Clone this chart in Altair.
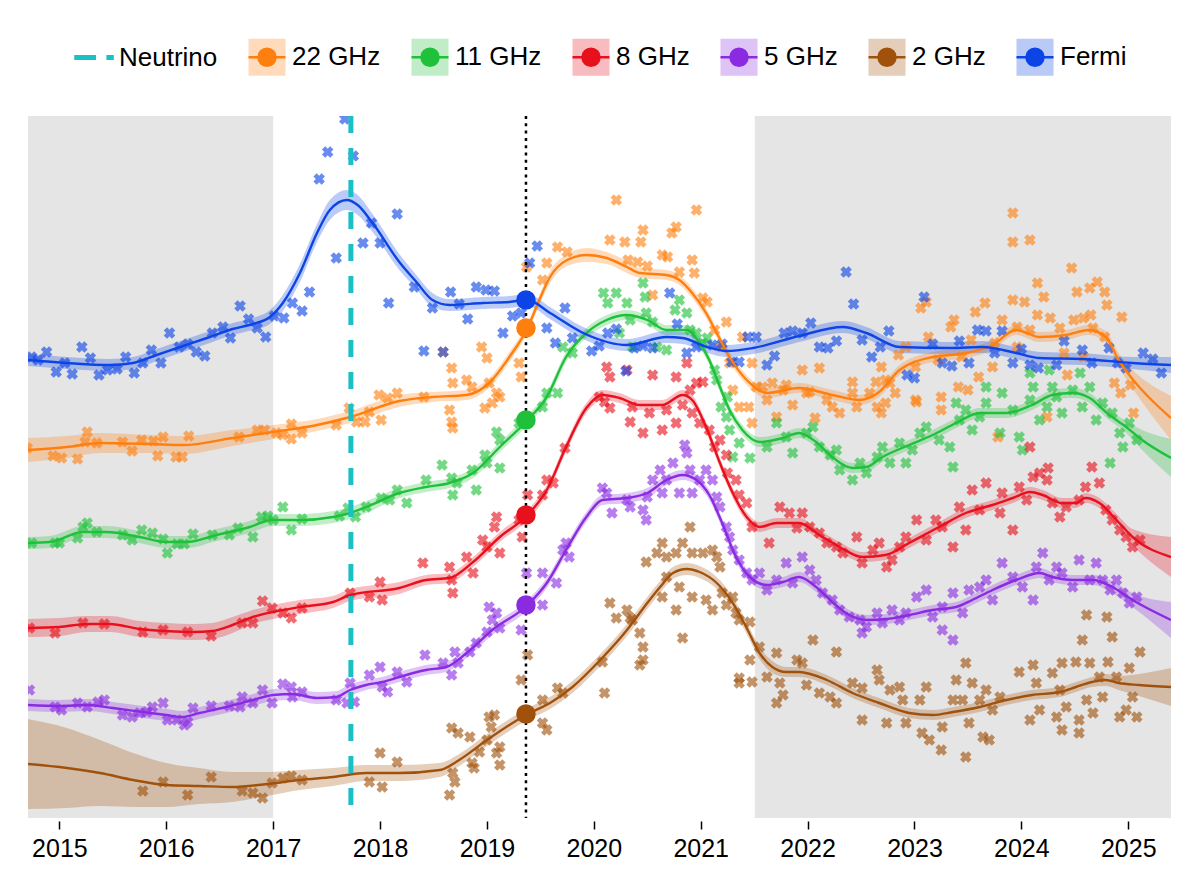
import altair as alt
import pandas as pd

# ---------------------------------------------------------------- axes / epochs
X_DOMAIN = [2014.706, 2025.40]
Y_DOMAIN = [0.0, 7.02]
YEAR_TICKS = list(range(2015, 2026))
SHADE_START = [2014.706, 2021.506]
SHADE_END = [2017.0, 2025.40]
NEUTRINO_T = [2017.727]
FLARE_T = [2019.365]

SERIES = ["22 GHz", "11 GHz", "8 GHz", "5 GHz", "2 GHz", "Fermi"]
LEGEND_ORDER = ["Neutrino"] + SERIES
COLORS = ["#19c0c6", "#ff7f0e", "#1fc13a", "#e8101d", "#8a2be2", "#a0520c", "#0c44e6"]
SERIES_COLOR = dict(zip(LEGEND_ORDER, COLORS))

# value of each smoothed light curve at the flare epoch (big dots)
MARKER_V = [4.90, 3.98, 3.03, 2.13, 1.04, 5.18]

# ---------------------------------------------------------------- smoothed curves [year, value, half-width]
FERMI_CURVE = [
    [2014.70, 4.58, 0.06], [2015.07, 4.55, 0.06], [2015.47, 4.53, 0.06], [2015.69, 4.55, 0.06],
    [2015.91, 4.63, 0.06], [2016.13, 4.71, 0.06], [2016.38, 4.80, 0.06], [2016.62, 4.89, 0.06],
    [2016.81, 4.94, 0.06], [2016.97, 5.01, 0.07], [2017.09, 5.15, 0.08], [2017.25, 5.45, 0.09],
    [2017.41, 5.85, 0.09], [2017.53, 6.08, 0.10], [2017.69, 6.18, 0.10], [2017.79, 6.13, 0.10],
    [2017.93, 5.95, 0.09], [2018.18, 5.56, 0.08], [2018.34, 5.36, 0.07], [2018.49, 5.18, 0.07],
    [2018.65, 5.13, 0.06], [2018.96, 5.15, 0.06], [2019.21, 5.16, 0.06], [2019.38, 5.18, 0.06],
    [2019.59, 5.05, 0.06], [2019.90, 4.85, 0.06], [2020.31, 4.73, 0.06], [2020.68, 4.81, 0.06],
    [2020.83, 4.80, 0.06], [2021.06, 4.71, 0.06], [2021.24, 4.67, 0.06], [2021.49, 4.70, 0.06],
    [2021.92, 4.82, 0.06], [2022.33, 4.91, 0.06], [2022.55, 4.85, 0.06], [2022.86, 4.71, 0.06],
    [2023.33, 4.70, 0.06], [2023.64, 4.71, 0.06], [2023.95, 4.65, 0.06], [2024.17, 4.60, 0.06],
    [2024.57, 4.59, 0.06], [2025.04, 4.55, 0.06], [2025.40, 4.53, 0.08],
]
ORANGE_CURVE = [
    [2014.70, 3.68, 0.12], [2015.07, 3.71, 0.11], [2015.38, 3.75, 0.10], [2015.84, 3.74, 0.09],
    [2016.16, 3.73, 0.09], [2016.62, 3.80, 0.08], [2017.00, 3.86, 0.07], [2017.41, 3.93, 0.06],
    [2017.72, 4.01, 0.06], [2018.18, 4.17, 0.06], [2018.49, 4.21, 0.05], [2018.81, 4.23, 0.05],
    [2019.02, 4.35, 0.05], [2019.21, 4.61, 0.05], [2019.38, 4.90, 0.05], [2019.49, 5.18, 0.05],
    [2019.59, 5.41, 0.06], [2019.75, 5.58, 0.06], [2019.93, 5.63, 0.07], [2020.12, 5.60, 0.06],
    [2020.31, 5.51, 0.06], [2020.43, 5.45, 0.05], [2020.68, 5.43, 0.05], [2020.80, 5.38, 0.05],
    [2020.92, 5.25, 0.05], [2021.05, 5.05, 0.05], [2021.15, 4.85, 0.05], [2021.27, 4.61, 0.05],
    [2021.43, 4.38, 0.05], [2021.62, 4.25, 0.05], [2021.92, 4.30, 0.05], [2022.23, 4.23, 0.05],
    [2022.48, 4.18, 0.05], [2022.67, 4.26, 0.05], [2022.86, 4.48, 0.05], [2023.17, 4.61, 0.05],
    [2023.49, 4.65, 0.05], [2023.73, 4.73, 0.05], [2023.95, 4.88, 0.05], [2024.17, 4.81, 0.05],
    [2024.42, 4.83, 0.05], [2024.63, 4.88, 0.05], [2024.79, 4.81, 0.06], [2024.91, 4.58, 0.07],
    [2025.07, 4.35, 0.10], [2025.19, 4.21, 0.14], [2025.40, 4.00, 0.22],
]
GREEN_CURVE = [
    [2014.70, 2.75, 0.06], [2014.91, 2.76, 0.06], [2015.22, 2.86, 0.06], [2015.44, 2.86, 0.06],
    [2015.75, 2.81, 0.06], [2016.00, 2.76, 0.06], [2016.19, 2.76, 0.06], [2016.47, 2.83, 0.06],
    [2016.78, 2.91, 0.06], [2016.99, 2.98, 0.06], [2017.25, 2.98, 0.06], [2017.56, 3.01, 0.06],
    [2017.72, 3.05, 0.06], [2017.87, 3.11, 0.06], [2018.18, 3.25, 0.05], [2018.43, 3.31, 0.05],
    [2018.65, 3.35, 0.05], [2018.87, 3.45, 0.05], [2019.12, 3.71, 0.05], [2019.38, 3.98, 0.05],
    [2019.56, 4.21, 0.05], [2019.74, 4.61, 0.05], [2019.93, 4.85, 0.05], [2020.12, 4.98, 0.05],
    [2020.31, 5.03, 0.05], [2020.50, 4.98, 0.05], [2020.68, 4.88, 0.05], [2020.87, 4.88, 0.05],
    [2020.99, 4.75, 0.05], [2021.08, 4.58, 0.05], [2021.18, 4.31, 0.05], [2021.27, 4.08, 0.05],
    [2021.39, 3.88, 0.05], [2021.55, 3.76, 0.05], [2021.77, 3.80, 0.05], [2021.92, 3.85, 0.05],
    [2022.08, 3.76, 0.05], [2022.23, 3.61, 0.05], [2022.42, 3.50, 0.05], [2022.55, 3.51, 0.05],
    [2022.70, 3.61, 0.05], [2022.95, 3.73, 0.05], [2023.17, 3.83, 0.05], [2023.39, 3.95, 0.05],
    [2023.61, 4.05, 0.05], [2023.86, 4.05, 0.05], [2024.10, 4.13, 0.05], [2024.29, 4.23, 0.05],
    [2024.48, 4.25, 0.05], [2024.64, 4.20, 0.05], [2024.80, 4.05, 0.05], [2024.98, 3.91, 0.06],
    [2025.13, 3.78, 0.10], [2025.40, 3.60, 0.19],
]
RED_CURVE = [
    [2014.70, 1.90, 0.09], [2015.00, 1.91, 0.09], [2015.26, 1.94, 0.08], [2015.47, 1.94, 0.08],
    [2015.75, 1.89, 0.08], [2016.00, 1.87, 0.08], [2016.25, 1.86, 0.08], [2016.43, 1.87, 0.08],
    [2016.62, 1.93, 0.08], [2016.81, 2.01, 0.07], [2017.00, 2.06, 0.07], [2017.25, 2.11, 0.07],
    [2017.56, 2.16, 0.06], [2017.72, 2.23, 0.06], [2018.18, 2.30, 0.06], [2018.43, 2.38, 0.05],
    [2018.65, 2.40, 0.05], [2018.87, 2.56, 0.05], [2019.12, 2.81, 0.05], [2019.38, 3.03, 0.05],
    [2019.56, 3.28, 0.05], [2019.74, 3.71, 0.05], [2019.93, 4.10, 0.05], [2020.08, 4.23, 0.05],
    [2020.24, 4.20, 0.05], [2020.43, 4.13, 0.05], [2020.64, 4.13, 0.05], [2020.83, 4.23, 0.05],
    [2020.92, 4.18, 0.05], [2021.05, 3.91, 0.05], [2021.18, 3.55, 0.05], [2021.30, 3.25, 0.05],
    [2021.43, 3.01, 0.05], [2021.55, 2.91, 0.05], [2021.71, 2.95, 0.05], [2021.92, 2.95, 0.05],
    [2022.11, 2.83, 0.05], [2022.30, 2.71, 0.05], [2022.51, 2.61, 0.05], [2022.73, 2.63, 0.05],
    [2022.95, 2.75, 0.05], [2023.23, 2.91, 0.05], [2023.48, 3.05, 0.05], [2023.73, 3.13, 0.05],
    [2023.92, 3.20, 0.05], [2024.08, 3.26, 0.05], [2024.20, 3.23, 0.05], [2024.38, 3.15, 0.05],
    [2024.51, 3.15, 0.05], [2024.60, 3.20, 0.05], [2024.73, 3.15, 0.05], [2024.89, 2.98, 0.06],
    [2025.04, 2.81, 0.08], [2025.40, 2.61, 0.20],
]
PURPLE_CURVE = [
    [2014.70, 1.13, 0.06], [2015.00, 1.12, 0.06], [2015.26, 1.13, 0.06], [2015.50, 1.10, 0.06],
    [2015.78, 1.06, 0.06], [2016.00, 1.03, 0.06], [2016.15, 1.01, 0.06], [2016.31, 1.05, 0.06],
    [2016.56, 1.11, 0.06], [2016.81, 1.18, 0.06], [2017.00, 1.23, 0.06], [2017.18, 1.24, 0.06],
    [2017.41, 1.20, 0.06], [2017.59, 1.21, 0.06], [2017.72, 1.28, 0.06], [2017.87, 1.33, 0.05],
    [2018.02, 1.36, 0.05], [2018.18, 1.41, 0.05], [2018.43, 1.48, 0.05], [2018.62, 1.51, 0.05],
    [2018.81, 1.65, 0.05], [2019.05, 1.88, 0.05], [2019.38, 2.13, 0.05], [2019.56, 2.35, 0.05],
    [2019.74, 2.68, 0.05], [2019.93, 3.01, 0.05], [2020.08, 3.18, 0.05], [2020.31, 3.20, 0.05],
    [2020.50, 3.25, 0.05], [2020.68, 3.38, 0.05], [2020.83, 3.43, 0.05], [2020.96, 3.38, 0.05],
    [2021.08, 3.23, 0.05], [2021.20, 2.95, 0.05], [2021.33, 2.61, 0.05], [2021.46, 2.41, 0.05],
    [2021.62, 2.33, 0.05], [2021.77, 2.36, 0.05], [2021.92, 2.41, 0.05], [2022.08, 2.31, 0.05],
    [2022.23, 2.16, 0.05], [2022.39, 2.03, 0.05], [2022.55, 1.98, 0.05], [2022.74, 1.99, 0.05],
    [2022.95, 2.03, 0.05], [2023.17, 2.08, 0.05], [2023.39, 2.11, 0.05], [2023.54, 2.18, 0.05],
    [2023.73, 2.28, 0.05], [2023.95, 2.38, 0.05], [2024.17, 2.45, 0.05], [2024.29, 2.41, 0.05],
    [2024.48, 2.38, 0.05], [2024.67, 2.38, 0.05], [2024.85, 2.31, 0.06], [2025.04, 2.18, 0.07],
    [2025.40, 1.98, 0.18],
]
BROWN_CURVE = [
    [2014.70, 0.54, 0.45], [2015.07, 0.50, 0.40], [2015.38, 0.45, 0.33], [2015.69, 0.38, 0.27],
    [2016.00, 0.33, 0.22], [2016.31, 0.32, 0.18], [2016.62, 0.31, 0.15], [2016.94, 0.34, 0.12],
    [2017.25, 0.38, 0.10], [2017.56, 0.41, 0.09], [2017.87, 0.45, 0.08], [2018.18, 0.45, 0.08],
    [2018.56, 0.48, 0.07], [2018.74, 0.58, 0.06], [2019.00, 0.78, 0.06], [2019.21, 0.93, 0.06],
    [2019.38, 1.04, 0.06], [2019.59, 1.15, 0.06], [2019.80, 1.31, 0.06], [2020.06, 1.58, 0.06],
    [2020.31, 1.88, 0.06], [2020.50, 2.15, 0.06], [2020.62, 2.31, 0.06], [2020.74, 2.45, 0.06],
    [2020.87, 2.49, 0.06], [2020.99, 2.46, 0.06], [2021.15, 2.35, 0.06], [2021.30, 2.15, 0.06],
    [2021.43, 1.90, 0.06], [2021.55, 1.65, 0.06], [2021.67, 1.51, 0.06], [2021.80, 1.46, 0.05],
    [2021.92, 1.46, 0.05], [2022.18, 1.38, 0.05], [2022.42, 1.25, 0.05], [2022.67, 1.15, 0.05],
    [2022.95, 1.05, 0.05], [2023.17, 1.03, 0.05], [2023.36, 1.06, 0.05], [2023.61, 1.11, 0.05],
    [2023.86, 1.18, 0.05], [2024.10, 1.23, 0.05], [2024.36, 1.26, 0.05], [2024.51, 1.31, 0.05],
    [2024.66, 1.36, 0.05], [2024.79, 1.38, 0.06], [2024.91, 1.35, 0.07], [2025.10, 1.33, 0.11],
    [2025.40, 1.31, 0.19],
]

# ---------------------------------------------------------------- measurements [year, value]
FERMI_PTS = [
    [2014.74, 4.61], [2014.80, 4.58], [2014.88, 4.66], [2014.97, 4.46], [2015.05, 4.55], [2015.12, 4.44],
    [2015.21, 4.71], [2015.29, 4.60], [2015.37, 4.43], [2015.45, 4.48], [2015.54, 4.49], [2015.62, 4.61],
    [2015.70, 4.45], [2015.78, 4.55], [2015.86, 4.68], [2015.95, 4.55], [2016.03, 4.85], [2016.12, 4.71],
    [2016.20, 4.74], [2016.28, 4.66], [2016.36, 4.62], [2016.43, 4.85], [2016.53, 4.91], [2016.60, 4.80],
    [2016.69, 5.12], [2016.77, 4.99], [2016.85, 4.90], [2016.93, 4.81], [2017.01, 5.02], [2017.10, 5.00],
    [2017.18, 5.15], [2017.27, 5.07], [2017.34, 5.26], [2017.43, 6.39], [2017.51, 6.66], [2017.59, 5.60],
    [2017.67, 6.99], [2017.75, 6.62], [2017.84, 5.75], [2017.92, 5.95], [2018.00, 5.75], [2018.08, 5.15],
    [2018.16, 6.04], [2018.32, 5.31], [2018.41, 4.67], [2018.49, 5.10], [2018.59, 4.66], [2018.66, 5.26],
    [2018.74, 5.14], [2018.82, 4.99], [2018.90, 5.31], [2018.99, 5.28], [2019.07, 5.27], [2019.15, 4.85],
    [2019.24, 5.02], [2019.32, 5.05], [2019.40, 5.55], [2019.47, 5.72], [2019.56, 4.90], [2019.64, 4.75],
    [2019.73, 5.10], [2019.80, 4.80], [2019.98, 4.67], [2020.05, 4.72], [2020.13, 4.85], [2020.21, 4.89],
    [2020.30, 4.47], [2020.38, 4.70], [2020.46, 4.72], [2020.55, 4.70], [2020.71, 5.25], [2020.78, 4.94],
    [2020.87, 4.65], [2020.96, 4.71], [2021.11, 4.73], [2021.20, 4.74], [2021.29, 4.56], [2021.36, 4.56],
    [2021.44, 4.81], [2021.52, 4.81], [2021.62, 4.53], [2021.69, 4.62], [2021.78, 4.85], [2021.86, 4.87],
    [2021.95, 4.85], [2022.03, 4.95], [2022.11, 4.71], [2022.19, 4.70], [2022.27, 4.77], [2022.36, 5.46],
    [2022.43, 5.14], [2022.51, 4.78], [2022.60, 4.61], [2022.68, 4.71], [2022.76, 4.87], [2022.93, 4.43],
    [2023.00, 4.40], [2023.09, 5.21], [2023.17, 4.74], [2023.26, 4.55], [2023.35, 4.52], [2023.42, 4.77],
    [2023.51, 4.55], [2023.59, 4.88], [2023.67, 4.87], [2023.75, 4.65], [2023.82, 4.87], [2023.92, 4.55],
    [2024.00, 4.69], [2024.08, 4.53], [2024.16, 4.50], [2024.33, 4.53], [2024.40, 4.77], [2024.57, 4.68],
    [2024.66, 4.55], [2024.82, 4.70], [2024.90, 4.55], [2024.98, 4.50], [2025.14, 4.65], [2025.23, 4.59],
    [2025.31, 4.45],
]
ORANGE_PTS = [
    [2014.70, 3.70], [2014.94, 3.62], [2015.02, 3.60], [2015.17, 3.59], [2015.24, 3.76], [2015.26, 3.86],
    [2015.35, 3.75], [2015.59, 3.76], [2015.68, 3.67], [2015.77, 3.78], [2015.88, 3.77], [2015.92, 3.62],
    [2015.97, 3.81], [2016.09, 3.61], [2016.15, 3.61], [2016.21, 3.82], [2016.68, 3.81], [2016.85, 3.88],
    [2016.92, 3.88], [2017.03, 3.85], [2017.09, 3.83], [2017.17, 3.94], [2017.17, 3.79], [2017.27, 3.85],
    [2017.59, 3.93], [2017.71, 4.10], [2017.78, 3.96], [2017.86, 3.96], [2017.90, 4.06], [2017.99, 4.23],
    [2018.01, 3.98], [2018.07, 4.20], [2018.16, 4.25], [2018.41, 4.21], [2018.59, 4.66], [2018.65, 4.08],
    [2018.67, 3.96], [2018.68, 3.90], [2018.67, 4.50], [2018.68, 4.35], [2018.81, 4.38], [2018.86, 4.31],
    [2018.95, 4.71], [2018.98, 4.10], [2019.00, 4.60], [2019.02, 4.35], [2019.05, 4.15], [2019.09, 4.25],
    [2019.12, 4.21], [2019.30, 4.55], [2019.32, 4.41], [2019.37, 5.51], [2019.52, 5.38], [2019.56, 5.55],
    [2019.66, 5.71], [2019.75, 5.66], [2020.15, 5.78], [2020.21, 6.18], [2020.29, 5.76], [2020.32, 5.58],
    [2020.41, 5.56], [2020.44, 5.76], [2020.46, 5.88], [2020.50, 5.52], [2020.55, 5.23], [2020.64, 5.63],
    [2020.69, 5.61], [2020.73, 5.85], [2020.77, 5.91], [2020.80, 5.46], [2020.92, 5.58], [2020.94, 5.45],
    [2020.96, 6.08], [2021.02, 5.20], [2021.06, 5.16], [2021.13, 4.88], [2021.19, 4.71], [2021.24, 4.96],
    [2021.27, 4.55], [2021.30, 4.28], [2021.36, 4.11], [2021.39, 4.81], [2021.45, 4.11], [2021.48, 4.55],
    [2021.48, 3.95], [2021.52, 4.31], [2021.58, 4.31], [2021.62, 4.18], [2021.67, 4.35], [2021.71, 4.01],
    [2021.77, 4.28], [2021.80, 4.33], [2021.86, 4.13], [2021.95, 4.48], [2021.99, 4.25], [2022.02, 4.26],
    [2022.07, 4.00], [2022.11, 4.50], [2022.18, 4.18], [2022.23, 4.11], [2022.30, 4.05], [2022.42, 4.36],
    [2022.42, 4.25], [2022.46, 4.11], [2022.58, 4.25], [2022.64, 4.36], [2022.65, 4.11], [2022.69, 4.51],
    [2022.69, 4.05], [2022.73, 4.38], [2022.73, 4.15], [2022.77, 4.35], [2022.82, 4.25], [2022.85, 4.63],
    [2022.92, 4.71], [2023.01, 4.51], [2023.01, 4.18], [2023.02, 4.16], [2023.06, 5.10], [2023.11, 5.16],
    [2023.13, 4.81], [2023.22, 4.58], [2023.25, 4.21], [2023.25, 4.08], [2023.34, 4.91], [2023.37, 4.98],
    [2023.41, 4.31], [2023.44, 4.61], [2023.50, 4.28], [2023.53, 4.78], [2023.57, 5.06], [2023.60, 4.41],
    [2023.66, 5.15], [2023.73, 4.51], [2023.75, 4.75], [2023.78, 3.81], [2023.82, 4.98], [2023.92, 6.05],
    [2023.92, 5.76], [2023.92, 5.18], [2023.96, 4.91], [2023.96, 4.71], [2024.03, 5.16], [2024.08, 5.78],
    [2024.08, 4.88], [2024.15, 5.35], [2024.15, 5.03], [2024.21, 5.21], [2024.24, 4.01], [2024.27, 5.00],
    [2024.36, 4.90], [2024.40, 4.65], [2024.43, 4.43], [2024.47, 5.50], [2024.49, 4.98], [2024.52, 5.26],
    [2024.58, 5.00], [2024.58, 4.61], [2024.64, 5.30], [2024.65, 5.03], [2024.67, 4.90], [2024.71, 5.36],
    [2024.78, 5.26], [2024.78, 4.81], [2024.80, 5.13], [2024.87, 4.35], [2024.93, 4.25], [2024.94, 5.01],
    [2025.02, 4.33], [2025.05, 4.05],
]
GREEN_PTS = [
    [2014.74, 2.75], [2014.96, 2.75], [2015.00, 2.75], [2015.17, 2.80], [2015.22, 2.91], [2015.26, 2.95],
    [2015.35, 2.86], [2015.59, 2.83], [2015.68, 2.78], [2015.77, 2.88], [2015.87, 2.85], [2015.97, 2.79],
    [2016.01, 2.65], [2016.10, 2.74], [2016.17, 2.74], [2016.25, 2.84], [2016.43, 2.83], [2016.59, 2.83],
    [2016.67, 2.90], [2016.81, 2.81], [2016.89, 3.01], [2016.95, 3.02], [2017.00, 2.98], [2017.09, 3.11],
    [2017.17, 2.88], [2017.27, 2.99], [2017.62, 3.02], [2017.70, 3.10], [2017.77, 3.01], [2017.87, 3.11],
    [2018.01, 3.20], [2018.09, 3.18], [2018.16, 3.28], [2018.25, 3.15], [2018.43, 3.38], [2018.58, 3.53],
    [2018.67, 3.40], [2018.68, 3.23], [2018.72, 3.35], [2018.86, 3.48], [2018.90, 3.28], [2018.98, 3.63],
    [2019.00, 3.55], [2019.09, 3.86], [2019.12, 3.78], [2019.12, 3.50], [2019.30, 3.95], [2019.52, 4.11],
    [2019.56, 4.25], [2019.66, 4.25], [2019.71, 4.71], [2019.80, 4.65], [2020.09, 5.25], [2020.13, 5.15],
    [2020.21, 5.25], [2020.24, 4.85], [2020.31, 5.15], [2020.34, 4.98], [2020.36, 4.71], [2020.46, 5.35],
    [2020.48, 5.21], [2020.49, 5.05], [2020.55, 4.96], [2020.59, 4.71], [2020.68, 4.68], [2020.76, 5.08],
    [2020.80, 5.18], [2020.87, 5.05], [2020.90, 4.88], [2020.96, 4.85], [2021.02, 4.75], [2021.06, 4.80],
    [2021.13, 4.48], [2021.15, 4.38], [2021.19, 4.11], [2021.24, 4.01], [2021.25, 4.21], [2021.27, 3.88],
    [2021.30, 3.61], [2021.36, 3.75], [2021.46, 3.60], [2021.62, 3.71], [2021.71, 3.95], [2021.80, 3.81],
    [2021.86, 3.65], [2021.99, 3.85], [2022.05, 3.91], [2022.11, 3.71], [2022.21, 3.63], [2022.27, 3.68],
    [2022.30, 3.48], [2022.42, 3.38], [2022.49, 3.55], [2022.55, 3.45], [2022.65, 3.61], [2022.70, 3.71],
    [2022.77, 3.55], [2022.86, 3.75], [2022.92, 3.55], [2022.98, 3.68], [2023.05, 3.85], [2023.11, 3.91],
    [2023.23, 3.78], [2023.33, 3.71], [2023.36, 3.51], [2023.39, 4.15], [2023.42, 3.98], [2023.48, 4.08],
    [2023.54, 3.88], [2023.61, 4.01], [2023.67, 4.15], [2023.67, 4.31], [2023.80, 3.85], [2023.82, 4.25],
    [2023.92, 4.08], [2023.98, 3.81], [2024.01, 3.68], [2024.08, 4.18], [2024.08, 4.45], [2024.11, 4.31],
    [2024.17, 3.98], [2024.24, 4.11], [2024.26, 4.48], [2024.29, 4.31], [2024.33, 4.21], [2024.38, 4.05],
    [2024.48, 4.28], [2024.55, 4.45], [2024.57, 4.11], [2024.64, 4.31], [2024.70, 3.98], [2024.76, 4.15],
    [2024.83, 3.55], [2024.85, 4.05], [2024.92, 3.85], [2024.95, 3.71], [2025.01, 3.95], [2025.08, 3.78],
]
RED_PTS = [
    [2014.72, 1.90], [2014.96, 1.85], [2015.22, 1.95], [2015.42, 1.94], [2015.78, 1.86], [2015.97, 1.88],
    [2016.20, 1.86], [2016.42, 1.82], [2016.71, 1.95], [2016.81, 1.95], [2016.90, 2.17], [2016.99, 2.10],
    [2017.09, 2.05], [2017.17, 2.00], [2017.27, 2.10], [2017.72, 2.25], [2017.90, 2.21], [2018.00, 2.36],
    [2018.02, 2.18], [2018.40, 2.55], [2018.65, 2.51], [2018.67, 2.38], [2018.68, 2.25], [2018.81, 2.61],
    [2018.87, 2.45], [2018.96, 2.78], [2019.00, 2.71], [2019.07, 2.91], [2019.09, 3.01], [2019.12, 2.65],
    [2019.30, 2.98], [2019.33, 2.81], [2019.38, 3.23], [2019.52, 3.23], [2019.56, 3.38], [2019.62, 3.35],
    [2019.73, 3.70], [2020.05, 4.21], [2020.10, 4.16], [2020.12, 4.51], [2020.15, 4.41], [2020.15, 4.10],
    [2020.31, 4.48], [2020.34, 3.96], [2020.36, 4.11], [2020.46, 3.85], [2020.52, 4.05], [2020.55, 4.43],
    [2020.64, 3.88], [2020.68, 4.08], [2020.77, 4.41], [2020.77, 3.95], [2020.83, 4.13], [2020.87, 4.55],
    [2020.90, 4.28], [2020.92, 4.05], [2020.96, 4.35], [2020.99, 3.95], [2021.02, 4.36], [2021.08, 3.88],
    [2021.13, 3.71], [2021.18, 3.78], [2021.24, 3.63], [2021.25, 3.45], [2021.33, 3.38], [2021.36, 3.23],
    [2021.43, 3.15], [2021.48, 2.91], [2021.64, 2.75], [2021.74, 3.11], [2021.83, 3.05], [2021.90, 2.90],
    [2021.95, 3.05], [2022.02, 2.91], [2022.11, 2.85], [2022.18, 2.75], [2022.27, 2.71], [2022.33, 2.65],
    [2022.46, 2.81], [2022.51, 2.55], [2022.61, 2.68], [2022.67, 2.75], [2022.74, 2.51], [2022.79, 2.58],
    [2022.86, 2.71], [2022.92, 2.81], [2023.02, 2.98], [2023.11, 2.78], [2023.20, 2.98], [2023.26, 2.91],
    [2023.36, 2.71], [2023.42, 3.11], [2023.48, 2.88], [2023.54, 3.28], [2023.61, 3.08], [2023.67, 3.35],
    [2023.80, 3.05], [2023.82, 3.25], [2023.92, 2.88], [2023.98, 3.31], [2024.05, 3.18], [2024.08, 3.71],
    [2024.11, 3.41], [2024.17, 3.45], [2024.24, 3.38], [2024.25, 3.50], [2024.29, 3.15], [2024.36, 3.01],
    [2024.42, 3.11], [2024.54, 3.18], [2024.60, 3.31], [2024.66, 3.51], [2024.73, 3.35], [2024.79, 3.08],
    [2024.85, 2.98], [2024.92, 2.88], [2024.98, 2.81], [2025.04, 2.71], [2025.11, 2.78],
]
PURPLE_PTS = [
    [2014.72, 1.28], [2014.96, 1.11], [2015.02, 1.08], [2015.17, 1.15], [2015.26, 1.11], [2015.36, 1.16],
    [2015.42, 1.18], [2015.59, 1.03], [2015.68, 1.01], [2015.75, 1.05], [2015.82, 1.06], [2015.87, 1.11],
    [2015.97, 1.15], [2016.01, 0.98], [2016.10, 0.98], [2016.17, 0.93], [2016.20, 0.96], [2016.25, 1.10],
    [2016.42, 1.12], [2016.59, 1.12], [2016.69, 1.11], [2016.71, 1.21], [2016.81, 1.15], [2016.90, 1.28],
    [2016.99, 1.15], [2017.09, 1.34], [2017.17, 1.31], [2017.18, 1.21], [2017.27, 1.26], [2017.59, 1.18],
    [2017.69, 1.15], [2017.72, 1.35], [2017.76, 1.16], [2017.90, 1.43], [2018.00, 1.51], [2018.02, 1.31],
    [2018.07, 1.26], [2018.16, 1.46], [2018.25, 1.36], [2018.42, 1.63], [2018.59, 1.55], [2018.67, 1.43],
    [2018.70, 1.66], [2018.73, 1.55], [2018.84, 1.66], [2018.90, 1.75], [2019.00, 1.86], [2019.02, 2.11],
    [2019.05, 1.98], [2019.09, 2.05], [2019.12, 1.90], [2019.32, 1.88], [2019.37, 2.45], [2019.52, 2.13],
    [2019.52, 2.45], [2019.65, 2.35], [2019.71, 2.68], [2019.74, 2.75], [2019.77, 2.61], [2020.08, 3.30],
    [2020.12, 3.25], [2020.17, 3.05], [2020.31, 3.18], [2020.34, 3.11], [2020.46, 3.08], [2020.49, 2.98],
    [2020.50, 3.21], [2020.55, 3.38], [2020.62, 3.48], [2020.64, 3.25], [2020.68, 3.38], [2020.74, 3.55],
    [2020.80, 3.25], [2020.85, 3.73], [2020.87, 3.65], [2020.90, 3.48], [2020.92, 3.25], [2020.99, 3.38],
    [2021.05, 3.48], [2021.11, 3.38], [2021.15, 3.21], [2021.18, 3.11], [2021.24, 2.91], [2021.27, 2.81],
    [2021.30, 2.68], [2021.36, 2.58], [2021.43, 2.45], [2021.48, 2.38], [2021.55, 2.45], [2021.62, 2.28],
    [2021.71, 2.38], [2021.80, 2.55], [2021.86, 2.35], [2021.95, 2.61], [2022.02, 2.48], [2022.08, 2.38],
    [2022.14, 2.25], [2022.23, 2.18], [2022.30, 2.08], [2022.39, 2.01], [2022.49, 1.98], [2022.51, 1.85],
    [2022.55, 1.91], [2022.65, 2.05], [2022.70, 1.95], [2022.79, 2.08], [2022.86, 1.98], [2022.92, 2.05],
    [2023.02, 2.21], [2023.11, 2.28], [2023.17, 2.01], [2023.26, 2.11], [2023.26, 1.88], [2023.36, 2.25],
    [2023.36, 1.78], [2023.45, 2.05], [2023.51, 2.28], [2023.61, 2.31], [2023.67, 2.38], [2023.73, 2.18],
    [2023.82, 2.55], [2023.92, 2.41], [2024.01, 2.31], [2024.11, 2.18], [2024.14, 2.51], [2024.20, 2.65],
    [2024.26, 2.38], [2024.33, 2.51], [2024.38, 2.45], [2024.48, 2.31], [2024.54, 2.58], [2024.64, 2.38],
    [2024.70, 2.55], [2024.76, 2.38], [2024.83, 2.28], [2024.89, 2.38], [2024.95, 2.25], [2025.01, 2.15],
    [2025.08, 2.21],
]
BROWN_PTS = [
    [2015.78, 0.27], [2015.97, 0.36], [2016.20, 0.23], [2016.42, 0.41], [2016.71, 0.27], [2016.81, 0.25],
    [2016.90, 0.20], [2016.99, 0.35], [2017.09, 0.40], [2017.17, 0.42], [2017.27, 0.38], [2017.90, 0.36],
    [2018.00, 0.65], [2018.02, 0.31], [2018.16, 0.56], [2018.65, 0.23], [2018.67, 0.90], [2018.68, 0.45],
    [2018.70, 0.36], [2018.73, 0.85], [2018.84, 0.81], [2018.86, 0.55], [2018.88, 0.50], [2018.93, 0.66],
    [2019.00, 0.78], [2019.02, 1.01], [2019.04, 0.91], [2019.07, 1.03], [2019.09, 0.65], [2019.12, 0.53],
    [2019.12, 0.71], [2019.32, 1.38], [2019.38, 1.63], [2019.52, 1.18], [2019.52, 0.95], [2019.56, 0.88],
    [2019.66, 1.30], [2019.71, 1.25], [2020.08, 1.56], [2020.10, 1.25], [2020.15, 2.15], [2020.21, 2.00],
    [2020.31, 2.08], [2020.34, 2.00], [2020.36, 1.98], [2020.43, 1.85], [2020.43, 1.53], [2020.46, 1.71],
    [2020.46, 1.58], [2020.49, 2.56], [2020.59, 2.65], [2020.64, 2.75], [2020.64, 2.21], [2020.68, 2.61],
    [2020.68, 2.41], [2020.77, 2.65], [2020.77, 2.08], [2020.80, 2.31], [2020.83, 2.75], [2020.83, 1.80],
    [2020.90, 2.91], [2020.92, 2.65], [2020.92, 2.21], [2021.02, 2.65], [2021.05, 2.18], [2021.11, 2.68],
    [2021.11, 2.08], [2021.15, 2.61], [2021.18, 2.51], [2021.20, 2.25], [2021.24, 2.13], [2021.30, 2.21],
    [2021.33, 2.05], [2021.36, 1.98], [2021.36, 1.40], [2021.36, 1.35], [2021.46, 1.96], [2021.46, 1.58],
    [2021.48, 1.36], [2021.55, 1.71], [2021.62, 1.41], [2021.71, 1.65], [2021.71, 1.15], [2021.74, 1.35],
    [2021.77, 1.23], [2021.90, 1.58], [2021.95, 1.55], [2021.99, 1.33], [2022.05, 1.78], [2022.11, 1.25],
    [2022.21, 1.21], [2022.27, 1.66], [2022.27, 1.15], [2022.42, 1.35], [2022.51, 1.30], [2022.51, 0.98],
    [2022.65, 1.48], [2022.67, 1.38], [2022.74, 0.95], [2022.77, 1.28], [2022.86, 1.31], [2022.89, 1.18],
    [2022.92, 0.95], [2023.05, 1.18], [2023.07, 0.85], [2023.11, 1.31], [2023.14, 0.78], [2023.25, 0.68],
    [2023.26, 0.91], [2023.36, 1.18], [2023.39, 1.38], [2023.45, 1.18], [2023.48, 1.55], [2023.48, 0.61],
    [2023.51, 0.95], [2023.54, 1.35], [2023.61, 1.18], [2023.64, 0.81], [2023.67, 1.28], [2023.70, 0.78],
    [2023.73, 1.08], [2023.80, 1.21], [2023.98, 1.46], [2024.08, 0.98], [2024.11, 1.53], [2024.14, 1.35],
    [2024.17, 1.08], [2024.29, 1.45], [2024.33, 1.01], [2024.36, 1.28], [2024.38, 1.55], [2024.38, 0.88],
    [2024.42, 1.11], [2024.51, 1.56], [2024.54, 0.98], [2024.54, 0.85], [2024.57, 1.78], [2024.61, 2.03],
    [2024.61, 1.18], [2024.64, 1.55], [2024.67, 1.05], [2024.73, 1.41], [2024.76, 1.21], [2024.80, 2.01],
    [2024.81, 1.56], [2024.85, 1.81], [2024.89, 1.41], [2024.92, 1.01], [2024.98, 1.08], [2025.01, 1.50],
    [2025.04, 1.21], [2025.08, 1.01], [2025.11, 1.66],
]

CURVES = dict(zip(SERIES, [ORANGE_CURVE, GREEN_CURVE, RED_CURVE, PURPLE_CURVE, BROWN_CURVE, FERMI_CURVE]))
POINTS = dict(zip(SERIES, [ORANGE_PTS, GREEN_PTS, RED_PTS, PURPLE_PTS, BROWN_PTS, FERMI_PTS]))

# ---------------------------------------------------------------- tables
curve_df = pd.DataFrame(
    [{"series": s, "t": t, "v": v, "lo": round(v - hw, 3), "hi": round(v + hw, 3)}
     for s in SERIES for t, v, hw in CURVES[s]]
)
pts_df = pd.DataFrame([{"series": s, "t": t, "v": v} for s in SERIES for t, v in POINTS[s]])
dots_df = pd.DataFrame({"series": SERIES, "t": FLARE_T * len(SERIES), "v": MARKER_V})
shade_df = pd.DataFrame({"start": SHADE_START, "end": SHADE_END})
nu_df = pd.DataFrame({"t": NEUTRINO_T})
flare_df = pd.DataFrame({"t": FLARE_T})

BAND_KEYS = [k + "~b" for k in LEGEND_ORDER]
key_df = pd.DataFrame({"series": LEGEND_ORDER, "key": BAND_KEYS,
                       "t": [None] * len(LEGEND_ORDER), "v": [None] * len(LEGEND_ORDER)})

# ---------------------------------------------------------------- scales / encodings
FONT = "Liberation Sans"
xscale = alt.Scale(domain=X_DOMAIN, nice=False, zero=False)
yscale = alt.Scale(domain=Y_DOMAIN, nice=False, zero=False)
xaxis = alt.Axis(values=YEAR_TICKS, format="d", title=None, domain=False, grid=False,
                 tickSize=8, tickWidth=1.5, tickColor="black", labelFont=FONT, labelFontSize=25,
                 labelColor="black", labelPadding=7, offset=3, labelFlush=False, labelOverlap=False)


def X(field):
    return alt.X(f"{field}:Q", scale=xscale, axis=xaxis)


def Y(field):
    return alt.Y(f"{field}:Q", scale=yscale, axis=None)


shades = alt.Chart(shade_df).mark_rect(color="#e5e5e5").encode(x=X("start"), x2="end:Q")

bands, scatters, lines, dots = [], [], [], []
for s in SERIES:
    c = SERIES_COLOR[s]
    cdf = curve_df[curve_df.series == s]
    pdf = pts_df[pts_df.series == s]
    ddf = dots_df[dots_df.series == s]
    bands.append(alt.Chart(cdf).mark_area(color=c, opacity=0.28, interpolate="monotone", clip=True)
                 .encode(x=X("t"), y=Y("lo"), y2="hi:Q"))
    scatters.append(alt.Chart(pdf).mark_point(shape="cross", angle=45, filled=True, size=135,
                                              color=c, opacity=0.62, clip=True)
                    .encode(x=X("t"), y=Y("v")))
    lines.append(alt.Chart(cdf).mark_line(color=c, strokeWidth=2.4, interpolate="monotone", clip=True)
                 .encode(x=X("t"), y=Y("v")))
    dots.append(alt.Chart(ddf).mark_circle(size=380, opacity=1, color=c)
                .encode(x=X("t"), y=Y("v")))

neutrino = alt.Chart(nu_df).mark_rule(color=SERIES_COLOR["Neutrino"], strokeWidth=5,
                                       strokeDash=[17, 15]).encode(x=X("t"))
flare = alt.Chart(flare_df).mark_rule(color="black", strokeWidth=2.5,
                                      strokeDash=[3, 4.3]).encode(x=X("t"))

# ---------------------------------------------------------------- legend (two stacked legends)
LEG_X, LEG_Y = 46, -79
legend_common = dict(orient="none", legendX=LEG_X, legendY=LEG_Y, direction="horizontal",
                     title=None, labelFont=FONT, labelFontSize=26, symbolSize=1369,
                     symbolStrokeWidth=2.5, labelOffset=5, columnPadding=25, padding=0)

legend_back = alt.Legend(symbolType="square", symbolOpacity=0.28, symbolStrokeColor="transparent",
                         labelColor="transparent", labelExpr="replace(datum.label, '~b', '')",
                         zindex=1, **legend_common)
legend_front = alt.Legend(symbolOpacity=1, labelColor="black", zindex=2, **legend_common)

CIRCLE_ON_LINE = "M-1,0L1,0M0.46,0A0.46,0.46,0,1,1,-0.46,0A0.46,0.46,0,1,1,0.46,0Z"
DASH_SYMBOL = "M-1,-0.07L0.04,-0.07L0.04,0.07L-1,0.07ZM0.74,-0.07L1,-0.07L1,0.07L0.74,0.07Z"
SHAPES = [DASH_SYMBOL] + [CIRCLE_ON_LINE] * len(SERIES)

key_back = alt.Chart(key_df).mark_square(filled=True, opacity=1).encode(
    x=X("t"), y=Y("v"),
    fill=alt.Fill("key:N", scale=alt.Scale(domain=BAND_KEYS, range=["transparent"] + COLORS[1:]),
                  legend=legend_back),
)
key_front = alt.Chart(key_df).mark_point(filled=True, opacity=1).encode(
    x=X("t"), y=Y("v"),
    color=alt.Color("series:N", scale=alt.Scale(domain=LEGEND_ORDER, range=COLORS), legend=legend_front),
    stroke=alt.Stroke("series:N", scale=alt.Scale(domain=LEGEND_ORDER, range=COLORS), legend=legend_front),
    shape=alt.Shape("series:N", scale=alt.Scale(domain=LEGEND_ORDER, range=SHAPES), legend=legend_front),
)

chart = alt.layer(
    shades, *bands, *scatters, *lines, neutrino, flare, *dots, key_back, key_front
).properties(
    width=1143, height=702,
    autosize=alt.AutoSizeParams(type="none"),
    padding={"left": 28, "top": 116, "right": 29, "bottom": 72},
    background="white",
).configure_view(strokeWidth=0)

chart.save("out.html", embed_options={"renderer": "svg", "actions": False})
